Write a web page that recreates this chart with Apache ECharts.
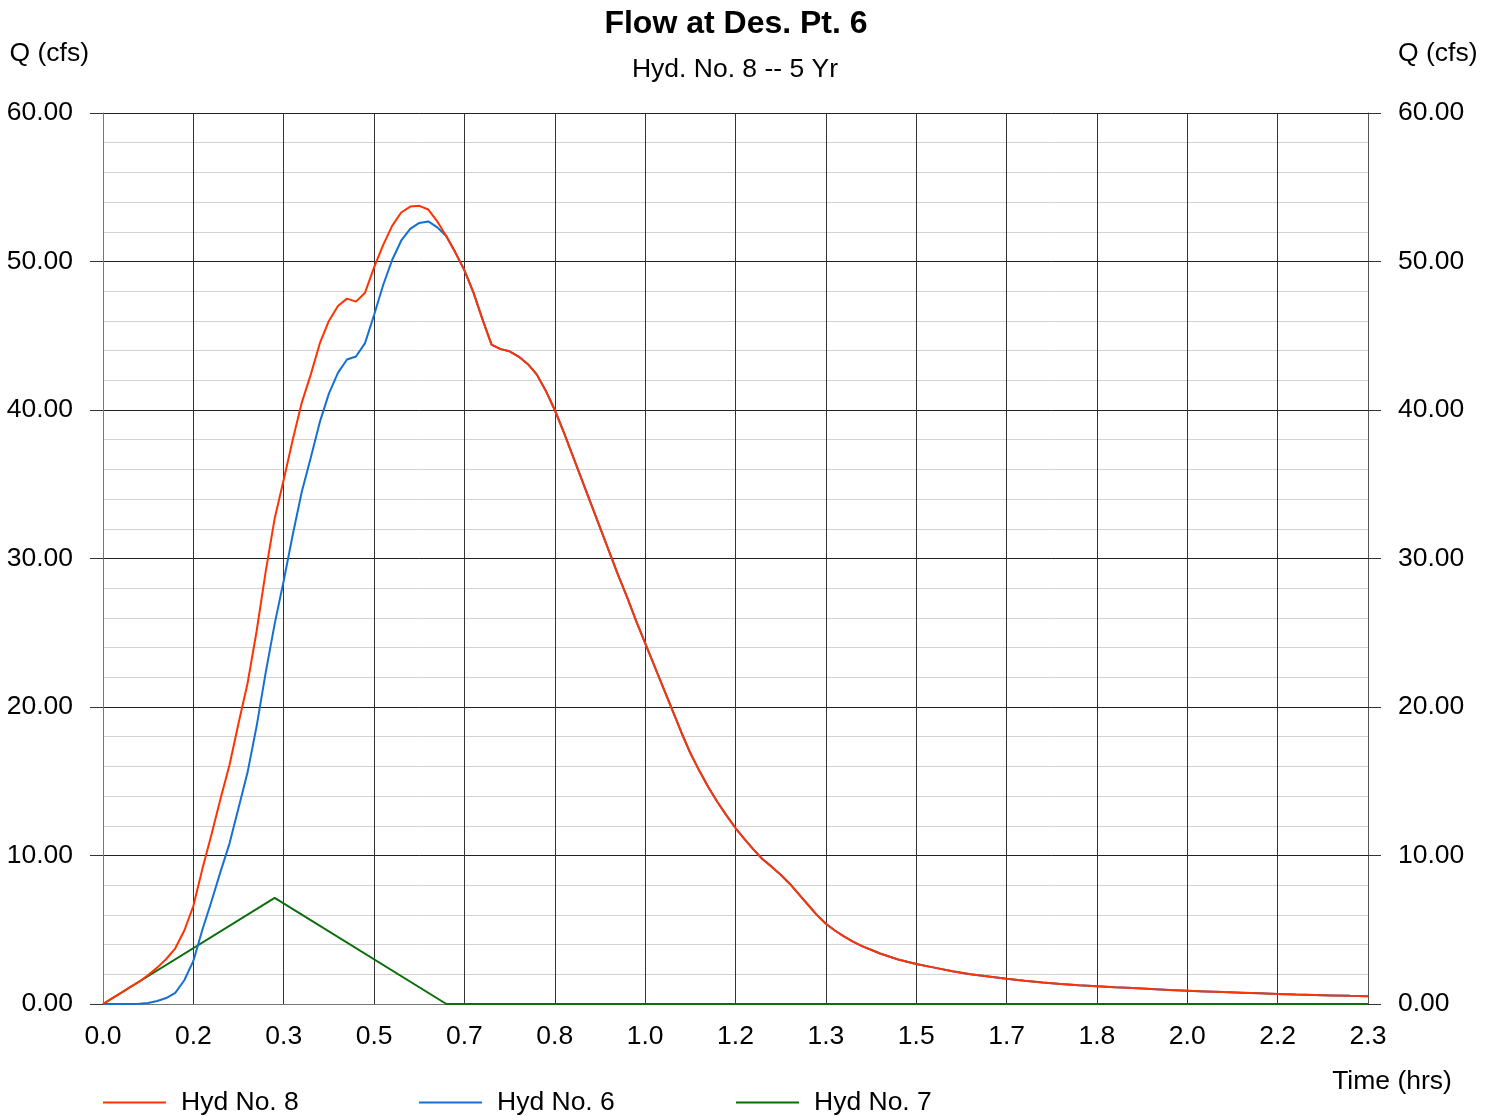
<!DOCTYPE html>
<html>
<head>
<meta charset="utf-8">
<script src="https://cdn.jsdelivr.net/npm/echarts@6/dist/echarts.min.js"></script>
<style>
html,body{margin:0;padding:0;background:#fff;}
#chart{width:1497px;height:1116px;}
</style>
</head>
<body>
<div id="chart"></div>
<script>
// Time in minutes (axis labels shown in hours)
var timeMin = [0,1,2,3,4,5,6,7,8,9,10,11,12,13,14,15,16,17,18,19,20,21,22,23,24,25,26,27,28,29,30,31,32,33,34,35,36,37,38,39,40,41,42,43,44,45,46,47,48,49,50,51,52,53,54,55,56,57,58,59,60,61,62,63,64,65,66,67,68,69,70,71,72,73,74,75,76,77,78,79,80,81,82,83,84,85,86,87,88,89,90,92,94,96,98,100,102,104,106,108,110,112,114,116,118,120,122,124,126,128,130,132,134,136,138,140];

// Hyd No. 8 (cfs)
var q8 = [0,0.38,0.75,1.13,1.5,1.95,2.45,3.03,3.75,4.95,6.6,9.1,11.4,13.8,16.1,18.9,21.6,25.1,29.1,32.7,35.3,38.0,40.5,42.4,44.5,46.0,47.0,47.5,47.3,47.9,49.6,51.1,52.4,53.3,53.7,53.75,53.5,52.7,51.7,50.6,49.4,47.9,46.1,44.4,44.1,43.95,43.6,43.1,42.4,41.3,40.0,38.5,36.9,35.3,33.7,32.1,30.5,28.9,27.4,25.8,24.3,22.8,21.3,19.8,18.3,16.9,15.7,14.6,13.6,12.7,11.85,11.1,10.4,9.75,9.25,8.7,8.1,7.4,6.7,6.0,5.4,4.95,4.55,4.2,3.9,3.65,3.4,3.2,3.0,2.85,2.7,2.45,2.2,2.0,1.85,1.7,1.57,1.45,1.35,1.27,1.2,1.13,1.07,1.01,0.95,0.9,0.85,0.8,0.76,0.72,0.68,0.64,0.61,0.58,0.55,0.53];

// Hyd No. 6 (cfs)
var q6 = [0,0,0,0,0.02,0.07,0.2,0.4,0.75,1.6,2.9,5.0,6.9,8.9,10.8,13.2,15.6,18.7,22.3,25.6,28.5,31.6,34.5,36.8,39.2,41.1,42.5,43.4,43.6,44.5,46.4,48.4,50.1,51.4,52.2,52.6,52.7,52.3,51.7,50.6,49.4,47.9,46.1,44.4,44.1,43.95,43.6,43.1,42.4,41.3,40.0,38.5,36.9,35.3,33.7,32.1,30.5,28.9,27.4,25.8,24.3,22.8,21.3,19.8,18.3,16.9,15.7,14.6,13.6,12.7,11.85,11.1,10.4,9.75,9.25,8.7,8.1,7.4,6.7,6.0,5.4,4.95,4.55,4.2,3.9,3.65,3.4,3.2,3.0,2.85,2.7,2.45,2.2,2.0,1.85,1.7,1.57,1.45,1.35,1.27,1.2,1.13,1.07,1.01,0.95,0.9,0.85,0.8,0.76,0.72,0.68,0.64,0.61,0.58,0.55,0.53];

// Hyd No. 7 (cfs)
var time7 = [0,19,38,140];
var q7 = [0,7.14,0,0];

var xTickLabels = ["0.0","0.2","0.3","0.5","0.7","0.8","1.0","1.2","1.3","1.5","1.7","1.8","2.0","2.2","2.3"];

var seriesNames = ["Hyd No. 8","Hyd No. 6","Hyd No. 7"];
var seriesColors = ["#ff3300","#1570d6","#0a6e0a"];

function pairs(t, v){ return t.map(function(x,i){ return [x, v[i]]; }); }

var FONT = 'Liberation Sans, Arial, sans-serif';
var FS = 26.5;
var chart = echarts.init(document.getElementById('chart'), null, {renderer:'canvas'});

function legendAt(i, left){
  return {
    show:true, data:[seriesNames[i]], left:left, top:1089,
    icon:'rect', itemWidth:63, itemHeight:2, itemGap:0, padding:0,
    textStyle:{fontFamily:FONT, fontSize:FS, color:'#000', padding:[0,0,0,10]}
  };
}

var option = {
  backgroundColor:'#fff',
  animation:false,
  title:[
    {text:'Flow at Des. Pt. 6', left:731, textAlign:'center', top:3,
     textStyle:{fontFamily:FONT, fontSize:32, fontWeight:'bold', color:'#000'}},
    {text:'Hyd. No. 8 -- 5 Yr', left:730, textAlign:'center', top:51,
     textStyle:{fontFamily:FONT, fontSize:FS, fontWeight:'normal', color:'#000'}}
  ],
  legend:[legendAt(0,103), legendAt(1,419), legendAt(2,736)],
  grid:{left:103, top:113, width:1265, height:891, containLabel:false},
  xAxis:{
    type:'value', min:0, max:140, interval:10,
    name:'Time (hrs)', nameLocation:'end', nameGap:24,
    nameTextStyle:{fontFamily:FONT, fontSize:FS, color:'#000', align:'center', verticalAlign:'top', padding:[64,0,0,0]},
    axisLine:{show:true, onZero:false, lineStyle:{color:'#777', width:1}},
    axisTick:{show:false},
    axisLabel:{fontFamily:FONT, fontSize:FS, color:'#000', margin:19,
      formatter:function(v){ return xTickLabels[Math.round(v/10)]; }},
    splitLine:{show:true, lineStyle:{color:'#333', width:1}}
  },
  yAxis:[
    {type:'value', position:'left', min:0, max:60, interval:10,
     name:'Q (cfs)', nameLocation:'end', nameGap:46,
     nameTextStyle:{fontFamily:FONT, fontSize:FS, color:'#000', align:'right', padding:[0,14,0,0]},
     axisLine:{show:true, lineStyle:{color:'#777'}},
     axisTick:{show:true, inside:false, length:13, lineStyle:{color:'#333'}},
     axisLabel:{fontFamily:FONT, fontSize:FS, color:'#000', margin:30, padding:[4,0,0,0],
       formatter:function(v){ return v.toFixed(2); }},
     splitLine:{show:true, lineStyle:{color:'#222', width:1}},
     minorTick:{show:false, splitNumber:5},
     minorSplitLine:{show:true, lineStyle:{color:'#d2d2d2', width:1}}
    },
    {type:'value', position:'right', min:0, max:60, interval:10,
     name:'Q (cfs)', nameLocation:'end', nameGap:46,
     nameTextStyle:{fontFamily:FONT, fontSize:FS, color:'#000', align:'left', padding:[0,0,0,30]},
     axisLine:{show:true, lineStyle:{color:'#555'}},
     axisTick:{show:true, inside:false, length:13, lineStyle:{color:'#333'}},
     axisLabel:{fontFamily:FONT, fontSize:FS, color:'#000', margin:30, padding:[4,0,0,0],
       formatter:function(v){ return v.toFixed(2); }},
     splitLine:{show:false}
    }
  ],
  series:[
    {name:seriesNames[2], type:'line', data:pairs(time7,q7), showSymbol:false, symbol:'none',
     lineStyle:{color:seriesColors[2], width:2}, itemStyle:{color:seriesColors[2]}, z:2},
    {name:seriesNames[1], type:'line', data:pairs(timeMin,q6), showSymbol:false, symbol:'none',
     lineStyle:{color:seriesColors[1], width:2}, itemStyle:{color:seriesColors[1]}, z:3},
    {name:seriesNames[0], type:'line', data:pairs(timeMin,q8), showSymbol:false, symbol:'none',
     lineStyle:{color:seriesColors[0], width:2}, itemStyle:{color:seriesColors[0]}, z:4}
  ]
};
chart.setOption(option);
</script>
</body>
</html>
